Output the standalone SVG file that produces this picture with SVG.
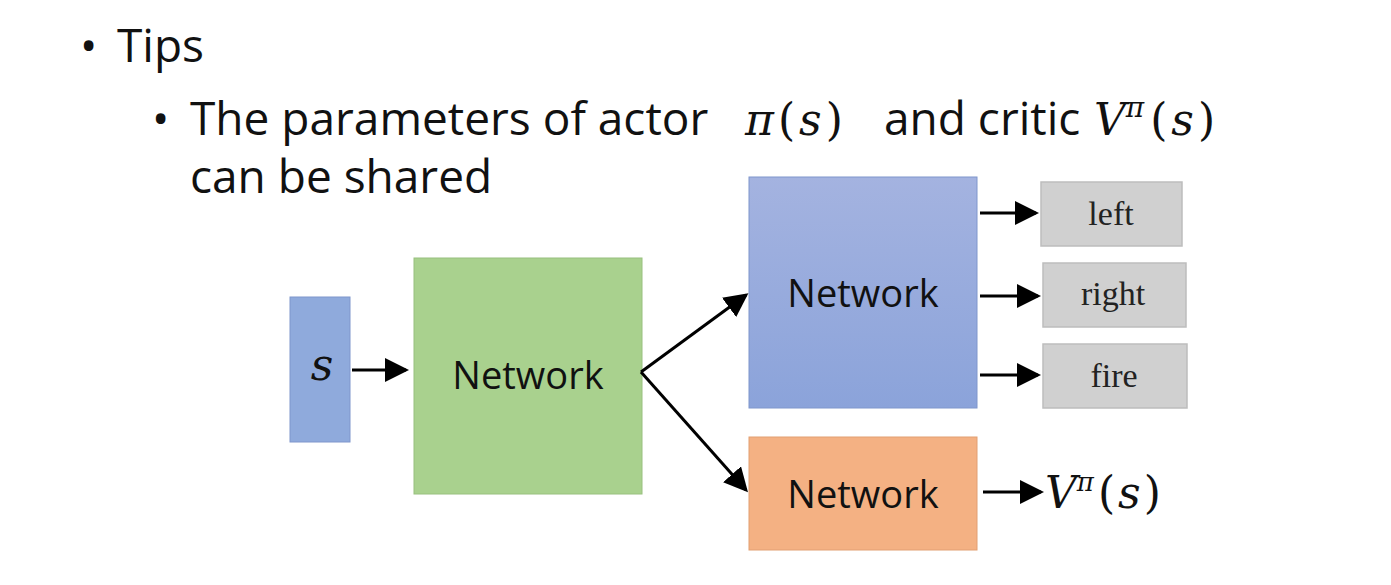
<svg xmlns="http://www.w3.org/2000/svg" width="1391" height="585" viewBox="0 0 1391 585">
<style>
.t{font-family:"Open Sans","Liberation Sans",sans-serif;font-size:46px;fill:#111}
.n{font-family:"Open Sans","Liberation Sans",sans-serif;font-size:38px;fill:#111;text-anchor:middle}
.m{font-family:"DejaVu Serif","Liberation Serif",serif;font-size:44px;fill:#111}
.i{font-style:italic}
.g{font-family:"Liberation Serif",serif;font-size:34px;fill:#222;text-anchor:middle}
.gb{fill:#d0d0d0;stroke:#bdbdbd;stroke-width:1.5}
.c{stroke:#000;stroke-width:3;fill:none;marker-end:url(#a)}
</style>
<defs>
<marker id="a" markerWidth="8" markerHeight="8" refX="7" refY="4" orient="auto" markerUnits="strokeWidth"><path d="M0,0L8,4L0,8z" fill="#000"/></marker>
<linearGradient id="bl" x1="0" y1="0" x2="0" y2="1"><stop offset="0" stop-color="#a4b3e0"/><stop offset="1" stop-color="#8ba3da"/></linearGradient>
</defs>
<rect width="1391" height="585" fill="#fff"/>
<text class="t" x="80" y="62" font-size="47">•</text>
<text class="t" x="117" y="62" font-size="47">Tips</text>
<text class="t" x="152" y="135">•</text>
<text class="t" x="190" y="135" font-size="47">The parameters of actor</text>
<text class="m" x="745" y="135"><tspan class="i">π</tspan><tspan dx="4">(</tspan><tspan class="i" dx="4">s</tspan><tspan dx="4">)</tspan></text>
<text class="t" x="884" y="135">and critic</text>
<text class="m" x="1094" y="135"><tspan class="i">V</tspan><tspan class="i" font-size="28" dy="-18">π</tspan><tspan dy="18" dx="6">(</tspan><tspan class="i" dx="4">s</tspan><tspan dx="4">)</tspan></text>
<text class="t" x="190" y="193">can be shared</text>
<g id="s"><rect x="290" y="297" width="60" height="145" fill="#8faadc" stroke="#7f96cc"/><text class="m i" x="322" y="380" text-anchor="middle" font-size="40">s</text></g>
<g id="shared"><rect x="414" y="258" width="228" height="236" fill="#a9d18e" stroke="#98c07e"/><text class="n" x="528" y="389">Network</text></g>
<g id="actor"><rect x="749" y="177" width="228" height="231" fill="url(#bl)" stroke="#7f96cc"/><text class="n" x="863" y="307">Network</text></g>
<g id="critic"><rect x="749" y="437" width="228" height="113" fill="#f4b183" stroke="#e29f72"/><text class="n" x="863" y="508">Network</text></g>
<g id="left"><rect class="gb" x="1041" y="182" width="141" height="64"/><text class="g" x="1111" y="225">left</text></g>
<g id="right"><rect class="gb" x="1043" y="263" width="143" height="64"/><text class="g" x="1113" y="305">right</text></g>
<g id="fire"><rect class="gb" x="1043" y="344" width="144" height="64"/><text class="g" x="1114" y="387">fire</text></g>
<g id="vout"><text class="m" x="1045" y="508" font-size="40"><tspan class="i">V</tspan><tspan class="i" font-size="26" dy="-17">π</tspan><tspan dy="17" dx="4">(</tspan><tspan class="i" dx="3">s</tspan><tspan dx="3">)</tspan></text></g>
<g id="connectors">
<line class="c" x1="352" y1="370" x2="406" y2="370"/>
<line class="c" x1="641" y1="372" x2="746" y2="295"/>
<line class="c" x1="641" y1="372" x2="746" y2="490"/>
<line class="c" x1="980" y1="213" x2="1036" y2="213"/>
<line class="c" x1="980" y1="296" x2="1038" y2="296"/>
<line class="c" x1="980" y1="375" x2="1038" y2="375"/>
<line class="c" x1="983" y1="492" x2="1041" y2="492"/>
</g>
</svg>
